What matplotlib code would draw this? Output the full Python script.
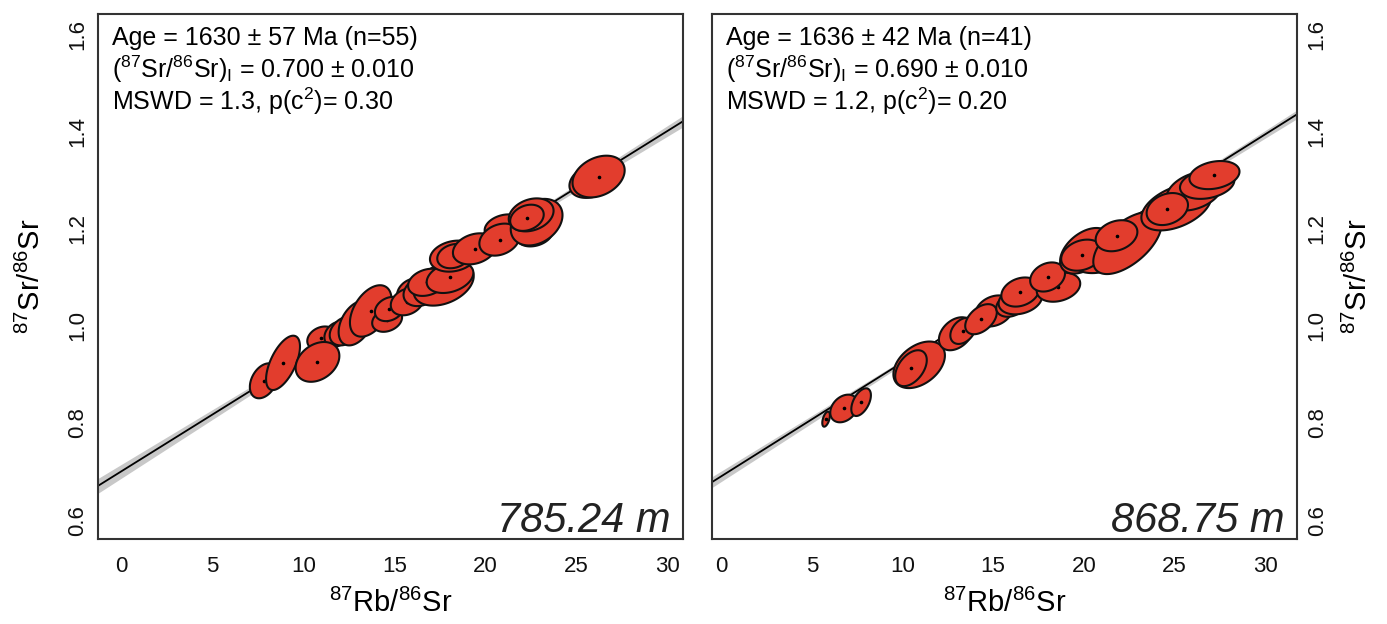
import matplotlib
matplotlib.use("Agg")
import matplotlib.pyplot as plt
import numpy as np
from matplotlib.patches import Polygon

plt.rcParams['font.family'] = ['Liberation Sans', 'DejaVu Sans']
plt.rcParams['mathtext.fontset'] = 'custom'
plt.rcParams['mathtext.rm'] = 'Liberation Sans'
plt.rcParams['mathtext.it'] = 'Liberation Sans:italic'
plt.rcParams['mathtext.bf'] = 'Liberation Sans:bold'

# ---- 785.24 m sample: centre x, centre y, half-extents, error correlation
left_x = [7.84, 8.89, 11.0, 11.85, 10.78, 12.3, 12.9, 13.7, 14.6, 14.73, 15.96, 15.7,
          16.5, 17.7, 16.8, 18.05, 18.25, 18.25, 19.4, 21.0, 20.77, 22.7, 22.8,
          22.5, 22.27, 25.9, 26.2]
left_y = [0.887, 0.924, 0.975, 0.983, 0.926, 0.99, 1.006, 1.031, 1.012, 1.035, 1.07, 1.05,
          1.072, 1.087, 1.09, 1.10, 1.144, 1.144, 1.159, 1.204, 1.178, 1.19, 1.214,
          1.229, 1.223, 1.300, 1.308]
left_ex = [0.77, 0.93, 0.78, 0.69, 1.20, 0.85, 0.96, 1.14, 0.82, 0.80, 0.82, 0.90,
           1.00, 1.65, 1.05, 1.28, 1.30, 0.90, 1.19, 1.05, 1.11, 1.00, 1.42,
           1.23, 0.92, 1.30, 1.43]
left_ey = [0.036, 0.056, 0.024, 0.026, 0.041, 0.030, 0.046, 0.053, 0.024, 0.025, 0.028, 0.028,
           0.031, 0.045, 0.028, 0.032, 0.032, 0.025, 0.032, 0.026, 0.033, 0.026, 0.048,
           0.034, 0.027, 0.036, 0.043]
left_rho = [0.35, 0.6, 0.25, 0.25, 0.3, 0.3, 0.4, 0.45, 0.25, 0.25, 0.25, 0.25,
            0.25, 0.35, 0.25, 0.3, 0.2, 0.2, 0.25, 0.25, 0.25, 0.25, 0.3,
            0.25, 0.25, 0.3, 0.3]

# ---- 868.75 m sample
right_x = [5.79, 6.78, 7.72, 10.92, 10.47, 12.95, 13.34, 15.05, 14.33, 16.0, 16.5,
           16.5, 18.6, 18.0, 20.07, 20.8, 19.9, 22.4, 21.8, 25.1, 26.1, 26.8,
           24.6, 27.2]
right_y = [0.808, 0.830, 0.843, 0.920, 0.913, 0.984, 0.990, 1.031, 1.014, 1.043, 1.054,
           1.070, 1.080, 1.101, 1.155, 1.138, 1.146, 1.171, 1.186, 1.245, 1.278, 1.293,
           1.241, 1.311]
right_ex = [0.21, 0.76, 0.54, 1.42, 0.87, 0.94, 0.70, 1.05, 0.87, 0.83, 1.20,
            1.05, 1.20, 0.96, 1.38, 1.38, 1.15, 1.88, 1.15, 1.93, 1.55, 1.50,
            1.14, 1.38]
right_ey = [0.0155, 0.0285, 0.0285, 0.048, 0.037, 0.034, 0.027, 0.032, 0.031, 0.024, 0.030,
            0.030, 0.030, 0.030, 0.047, 0.029, 0.032, 0.064, 0.032, 0.048, 0.040, 0.031,
            0.033, 0.029]
right_rho = [0.5, 0.3, 0.5, 0.4, 0.45, 0.35, 0.35, 0.25, 0.45, 0.25, 0.25,
             0.25, 0.25, 0.25, 0.45, 0.25, 0.25, 0.6, 0.25, 0.45, 0.35, 0.25,
             0.25, 0.25]

# isochron results
ages = [1630, 1636]
age_err = [57, 42]
n_pts = [55, 41]
intercepts = [0.700, 0.690]
int_err = [0.010, 0.010]
mswd = [1.3, 1.2]
p_chi = ['0.30', '0.20']
depths = ['785.24 m', '868.75 m']

lam = 1.42e-11
xlims = [(-1.26, 30.83), (-0.5, 31.75)]
ylims = (0.561, 1.643)
fill = '#E23D2D'

fig = plt.figure(figsize=(13.87, 6.24), dpi=100)
ax1 = fig.add_axes([98/1387, 1-539/624, 585/1387, 525/624])
ax2 = fig.add_axes([712/1387, 1-539/624, 585/1387, 525/624])


def draw_panel(ax, k, xs, ys, exs, eys, rhos):
    slope = np.exp(lam * ages[k] * 1e6) - 1
    sb = lam * np.exp(lam * ages[k] * 1e6) * age_err[k] * 1e6
    xbar = np.mean(xs)
    xx = np.linspace(xlims[k][0] - 1, xlims[k][1] + 1, 200)
    yy = intercepts[k] + slope * xx
    hw = np.sqrt(0.002**2 + (sb * (xx - xbar))**2)
    ax.fill_between(xx, yy - hw, yy + hw, color='#c8c8c8', lw=0, zorder=1)
    ax.plot(xx, yy, color='black', lw=1.3, zorder=2)

    t = np.linspace(0, 2 * np.pi, 120)
    for i in range(len(xs)):
        ex_ = xs[i] + exs[i] * np.cos(t)
        ey_ = ys[i] + eys[i] * (rhos[i] * np.cos(t) + np.sqrt(1 - rhos[i]**2) * np.sin(t))
        ax.add_patch(Polygon(np.column_stack([ex_, ey_]), closed=True, facecolor=fill,
                             edgecolor='#111111', lw=1.5, zorder=3 + 2 * i))
        ax.plot(xs[i], ys[i], 'o', color='black', ms=1.6, zorder=4 + 2 * i)

    ax.set_xlim(*xlims[k])
    ax.set_ylim(*ylims)
    ax.set_xticks([0, 5, 10, 15, 20, 25, 30])
    ax.set_yticks([0.6, 0.8, 1.0, 1.2, 1.4, 1.6])
    ax.set_yticklabels(['0.6', '0.8', '1.0', '1.2', '1.4', '1.6'], rotation=90, va='center')
    ax.tick_params(axis='x', length=0, pad=12, labelsize=16, labelcolor='#111111')
    ax.tick_params(axis='y', length=0, pad=7, labelsize=16, labelcolor='#111111')
    for s in ax.spines.values():
        s.set_linewidth(1.5)
        s.set_color('#333333')

    ax.set_xlabel(r'$^{87}$Rb/$^{86}$Sr', fontsize=21, va='center')
    ax.xaxis.set_label_coords(0.5, -0.122)

    tx = 0.024
    ax.text(tx, 0.941, f'Age = {ages[k]} ± {age_err[k]} Ma (n={n_pts[k]})',
            transform=ax.transAxes, fontsize=18, va='baseline', ha='left', zorder=200)
    ax.text(tx, 0.878, r'($^{87}$Sr/$^{86}$Sr)$_\mathrm{I}$' + f' = {intercepts[k]:.3f} ± {int_err[k]:.3f}',
            transform=ax.transAxes, fontsize=18, va='baseline', ha='left', zorder=200)
    ax.text(tx, 0.818, f'MSWD = {mswd[k]}, p(c$^2$)= {p_chi[k]}',
            transform=ax.transAxes, fontsize=18, va='baseline', ha='left', zorder=200)
    ax.text(0.979, 0.013, depths[k], transform=ax.transAxes, fontsize=30,
            style='italic', ha='right', va='baseline', color='#222222', zorder=200)


draw_panel(ax1, 0, left_x, left_y, left_ex, left_ey, left_rho)
draw_panel(ax2, 1, right_x, right_y, right_ex, right_ey, right_rho)

ax1.set_ylabel(r'$^{87}$Sr/$^{86}$Sr', fontsize=21)
ax1.yaxis.label.set_va('center')
ax1.yaxis.set_label_coords((31 - 98) / 585, 0.5)

ax2.yaxis.tick_right()
ax2.yaxis.set_label_position('right')
ax2.set_ylabel(r'$^{87}$Sr/$^{86}$Sr', fontsize=21)
ax2.yaxis.label.set_va('center')
ax2.yaxis.set_label_coords((1358 - 712) / 585, 0.5)

fig.savefig('out.png', dpi=100)
